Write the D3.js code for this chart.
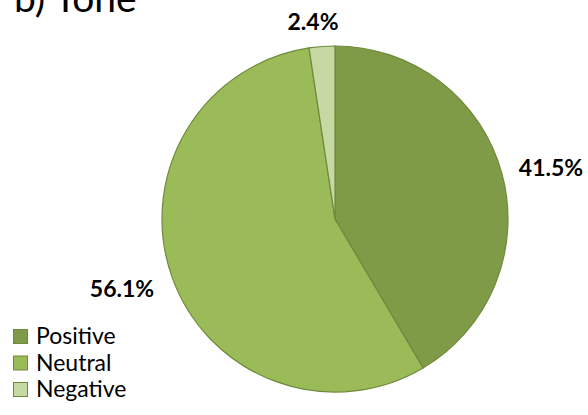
<!DOCTYPE html>
<html><head><meta charset="utf-8">
<script src="https://cdn.jsdelivr.net/npm/d3@7"></script>
<style>body{margin:0;background:#fff}svg{display:block}</style>
</head><body>
<script>
const categories = ["Positive", "Neutral", "Negative"];
const values = [41.5, 56.1, 2.4];
const labels = ["41.5%", "56.1%", "2.4%"];
const colors = ["#7F9B48", "#9BBB59", "#C6D9A3"];

const W = 588, H = 415;
const svg = d3.select("body").append("svg").attr("width", W).attr("height", H);
const font = "Lato, 'Open Sans', sans-serif";

svg.append("text").attr("x", 14).attr("y", 12).attr("font-family", font)
  .attr("font-size", 39).attr("fill", "#000").text("b) Tone");

const cx = 335, cy = 219, r = 173;
const pie = d3.pie().sort(null).value(d => d)(values);
const arc = d3.arc().innerRadius(0).outerRadius(r);
const g = svg.append("g").attr("transform", `translate(${cx},${cy})`);
g.selectAll("path").data(pie).join("path")
  .attr("d", arc).attr("fill", (d, i) => colors[i])
  .attr("stroke", "#6F8A3C").attr("stroke-width", 1.2);

const labelPos = [[216, -43], [-213, 78], [-22, -189]];
g.selectAll("text.lbl").data(pie).join("text").attr("class", "lbl")
  .attr("x", (d, i) => labelPos[i][0]).attr("y", (d, i) => labelPos[i][1])
  .attr("text-anchor", "middle").attr("font-family", font).attr("font-weight", "bold")
  .attr("font-size", 23).attr("fill", "#000").text((d, i) => labels[i]);

const leg = svg.append("g").attr("transform", "translate(13,329)");
const rows = leg.selectAll("g").data(categories).join("g")
  .attr("transform", (d, i) => `translate(0,${i * 26.5})`);
rows.append("rect").attr("x", 0.5).attr("y", 0.5).attr("width", 14).attr("height", 14)
  .attr("fill", (d, i) => colors[i]).attr("stroke", "#6F8A3C").attr("stroke-width", 1);
rows.append("text").attr("x", 23).attr("y", 15).attr("font-family", font)
  .attr("font-size", 23).attr("fill", "#000").text(d => d);
</script>
</body></html>
